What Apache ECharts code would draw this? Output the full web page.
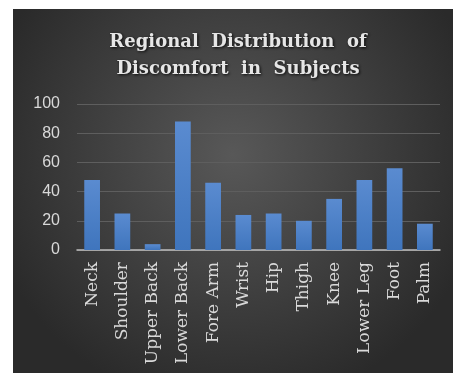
<!DOCTYPE html>
<html>
<head>
<meta charset="utf-8">
<style>
  html, body { margin: 0; padding: 0; background: #fff; }
  #chart { width: 453px; height: 373px; }
</style>
<script src="https://cdn.jsdelivr.net/npm/echarts@6/dist/echarts.min.js"></script>
</head>
<body>
<div id="chart"></div>
<script>
const regions = ['Neck', 'Shoulder', 'Upper Back', 'Lower Back', 'Fore Arm', 'Wrist',
  'Hip', 'Thigh', 'Knee', 'Lower Leg', 'Foot', 'Palm'];
const discomfort = [48, 25, 4, 88, 46, 24, 25, 20, 35, 48, 56, 18];

const chart = echarts.init(document.getElementById('chart'));
const option = {
  animation: false,
  backgroundColor: '#fff',
  graphic: [{
    type: 'rect',
    z: -10,
    shape: { x: 13, y: 9, width: 440, height: 364 },
    style: {
      fill: new echarts.graphic.RadialGradient(0.5, 0.4, 0.7, [
        { offset: 0, color: '#585858' },
        { offset: 1, color: '#2a2a2a' },
      ]),
    },
  }],
  title: {
    // wide word gaps like the original
    text: 'Regional  Distribution  of\nDiscomfort  in  Subjects',
    left: 233,
    top: 24,
    textAlign: 'center',
    textStyle: {
      color: '#e6e6e6',
      fontFamily: 'DejaVu Serif',
      fontWeight: 'bold',
      fontSize: 18,
      lineHeight: 27,
      textShadowColor: 'rgba(0,0,0,0.9)',
      textShadowBlur: 3,
      textShadowOffsetX: 1,
      textShadowOffsetY: 1,
    },
  },
  grid: {
    left: 77,
    right: 13,
    top: 104,
    bottom: 123,
  },
  xAxis: {
    type: 'category',
    data: regions,
    axisLine: { lineStyle: { color: '#bfbfbf', width: 1.5 } },
    axisTick: { show: false },
    axisLabel: {
      rotate: 90,
      interval: 0,
      margin: 12,
      color: '#d9d9d9',
      fontFamily: 'DejaVu Serif',
      fontSize: 17,
    },
  },
  yAxis: {
    type: 'value',
    min: 0,
    max: 100,
    interval: 20,
    axisLine: { show: false },
    axisTick: { show: false },
    splitLine: { lineStyle: { color: '#5e5e5e' } },
    axisLabel: {
      margin: 17,
      color: '#d9d9d9',
      fontFamily: 'Liberation Sans',
      fontSize: 16,
    },
  },
  series: [{
    type: 'bar',
    data: discomfort,
    barWidth: '52%',
    itemStyle: {
      color: new echarts.graphic.LinearGradient(0, 0, 0, 1, [
        { offset: 0, color: '#5a8bd0' },
        { offset: 1, color: '#3f75bd' },
      ]),
    },
  }],
};
chart.setOption(option);
</script>
</body>
</html>
